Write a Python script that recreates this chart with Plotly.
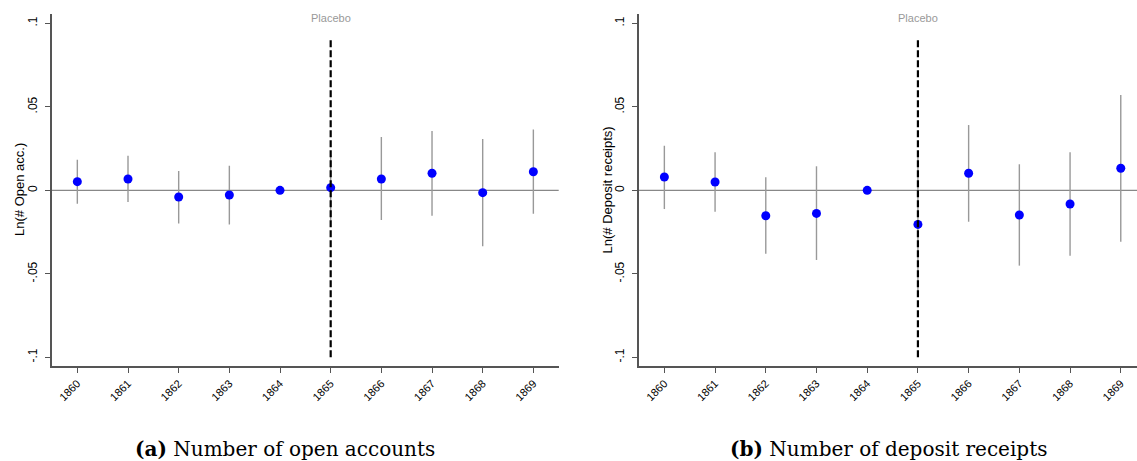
import plotly.graph_objects as go

years = [1860, 1861, 1862, 1863, 1864, 1865, 1866, 1867, 1868, 1869]

# Panel (a): Ln(# Open acc.)
est_a = [0.0052, 0.0068, -0.0040, -0.0028, 0.0, 0.0016, 0.0068, 0.0102, -0.0014, 0.0111]
lo_a = [-0.0081, -0.0070, -0.0198, -0.0204, 0.0, -0.0180, -0.0178, -0.0152, -0.0335, -0.0140]
hi_a = [0.0183, 0.0207, 0.0116, 0.0147, 0.0, 0.0210, 0.0319, 0.0355, 0.0307, 0.0365]

# Panel (b): Ln(# Deposit receipts)
est_b = [0.0080, 0.0050, -0.0152, -0.0138, 0.0, -0.0204, 0.0102, -0.0148, -0.0082, 0.0132]
lo_b = [-0.0112, -0.0128, -0.0380, -0.0417, 0.0, -0.0620, -0.0188, -0.0451, -0.0392, -0.0308]
hi_b = [0.0267, 0.0228, 0.0078, 0.0144, 0.0, 0.0200, 0.0391, 0.0156, 0.0228, 0.0571]

ytick_vals = [-0.1, -0.05, 0, 0.05, 0.1]
ytick_text = ["-.1", "-.05", "0", ".05", ".1"]
ytitles = ["Ln(# Open acc.)", "Ln(# Deposit receipts)"]
captions = ["<b>(a)</b> Number of open accounts", "<b>(b)</b> Number of deposit receipts"]
placebo_year = 1865
placebo_label = "Placebo"

W, H = 1137, 461
SANS = "Liberation Sans, Arial, Helvetica, sans-serif"

fig = go.Figure()

panels = [(est_a, lo_a, hi_a), (est_b, lo_b, hi_b)]
for i, (est, lo, hi) in enumerate(panels):
    ax = "" if i == 0 else "2"
    fig.add_trace(go.Scatter(
        x=years, y=est, mode="markers",
        marker=dict(color="#0000ff", size=9, line=dict(width=0)),
        error_y=dict(type="data", symmetric=False,
                     array=[h - e for h, e in zip(hi, est)],
                     arrayminus=[e - l for e, l in zip(est, lo)],
                     width=0, thickness=1.4, color="#999999"),
        xaxis="x" + ax, yaxis="y" + ax, showlegend=False, cliponaxis=False))

ydom = [(H - 366) / H, (H - 14) / H]
xdoms = [[52 / W, 558.7 / W], [639 / W, 1.0]]
xranges = [[1859.5, 1869.5], [1859.5, 1869.32]]

axis_common = dict(showgrid=False, zeroline=False, showline=True, linecolor="#555555",
                   linewidth=1.5, ticks="outside", ticklen=5, tickcolor="#555555",
                   tickwidth=1.3, automargin=False)

for i in range(2):
    sfx = "" if i == 0 else "2"
    fig.update_layout(**{
        "xaxis" + sfx: dict(domain=xdoms[i], range=xranges[i], tickvals=years,
                            ticktext=[str(y) for y in years], tickangle=-45,
                            tickfont=dict(family=SANS, size=11, color="#000"),
                            anchor="y" + sfx, **axis_common),
        "yaxis" + sfx: dict(domain=ydom, range=[-0.1052, 0.1056], tickvals=ytick_vals,
                            ticktext=ytick_text, tickangle=-90, ticklabelstandoff=3,
                            tickfont=dict(family=SANS, size=12, color="#000"),
                            anchor="x" + sfx, **axis_common),
    })
    xr = "x" + sfx
    yr = "y" + sfx
    # zero reference line
    fig.add_shape(type="line", xref=xr + " domain", yref=yr, x0=0, x1=1, y0=0, y1=0,
                  line=dict(color="#888888", width=1.2), layer="below")
    # placebo vertical dashed line
    fig.add_shape(type="line", xref=xr, yref=yr, x0=placebo_year, x1=placebo_year,
                  y0=-0.1, y1=0.09, line=dict(color="#000000", width=2.2, dash="7px,3px"),
                  layer="above")
    fig.add_annotation(x=placebo_year, y=0.1035, xref=xr, yref=yr, text=placebo_label,
                       showarrow=False, font=dict(family=SANS, size=11, color="#999999"),
                       xanchor="center", yanchor="middle")
    # y-axis title
    tx = [19, 606.5][i]
    fig.add_annotation(x=tx / W, y=(ydom[0] + ydom[1]) / 2, xref="paper", yref="paper",
                       text=ytitles[i], textangle=-90, showarrow=False,
                       font=dict(family=SANS, size=13, color="#000"),
                       xanchor="center", yanchor="middle")
    # caption
    cx = [285, 888][i]
    fig.add_annotation(x=cx / W, y=(H - 449) / H, xref="paper", yref="paper",
                       text=captions[i], showarrow=False,
                       font=dict(family="DejaVu Serif, serif", size=20, color="#000"),
                       xanchor="center", yanchor="middle")

fig.update_layout(width=W, height=H, margin=dict(l=0, r=0, t=0, b=0),
                  paper_bgcolor="white", plot_bgcolor="white")

fig.write_html("out.html")
